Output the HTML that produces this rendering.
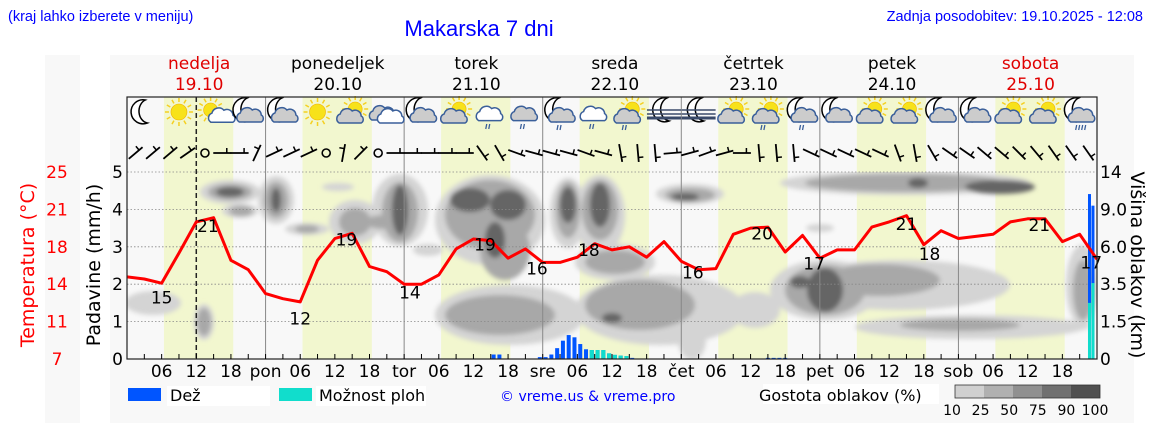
<!DOCTYPE html>
<html><head><meta charset="utf-8"><style>
html,body{margin:0;padding:0;background:#fff;}
svg{display:block;}
text{font-family:"DejaVu Sans","Liberation Sans",sans-serif;}
.hdr{font-family:"Liberation Sans",sans-serif;}
</style></head><body>
<svg id="chart" width="1152" height="443" viewBox="0 0 1152 443" xmlns="http://www.w3.org/2000/svg">
<defs>
<filter id="blur" x="-50%" y="-50%" width="200%" height="200%"><feGaussianBlur stdDeviation="2.5"/></filter>
<clipPath id="plotclip"><rect x="127" y="172" width="970" height="187"/></clipPath>
</defs>
<rect x="45" y="55" width="35" height="368" fill="#f8f8f8"/>
<rect x="110" y="55" width="1024" height="368" fill="#f8f8f8"/>
<text class="hdr" x="8" y="21" font-size="14.5" fill="#0000ff">(kraj lahko izberete v meniju)</text>
<text class="hdr" x="479" y="36" font-size="22" fill="#0000ff" text-anchor="middle">Makarska 7 dni</text>
<text class="hdr" x="1143" y="21" font-size="14.5" fill="#0000ff" text-anchor="end">Zadnja posodobitev: 19.10.2025 - 12:08</text>
<g id="days"></g>
<rect x="127" y="97" width="970" height="262" fill="#f8f8f8"/>
<g id="bands"></g>
<g id="clouds" clip-path="url(#plotclip)" filter="url(#blur)"></g>
<g id="grid"></g>
<g id="rain"></g>
<g id="temp"></g>
<g id="icons"></g>
<g id="wind"></g>
<g id="axes"></g>
<text transform="translate(34,265) rotate(-90)" font-size="19" fill="#ff0000" text-anchor="middle">Temperatura (°C)</text>
<text transform="translate(100,265) rotate(-90)" font-size="19" fill="#000" text-anchor="middle">Padavine (mm/h)</text>
<text transform="translate(1131,265) rotate(90)" font-size="19" fill="#000" text-anchor="middle">Višina oblakov (km)</text>
<g>
<rect x="128" y="388" width="33" height="13" fill="#0055ff"/>
<rect x="167" y="386" width="103" height="20" fill="#fff"/>
<text x="170" y="401" font-size="16">Dež</text>
<rect x="279" y="388" width="33" height="13" fill="#11ddcc"/>
<rect x="316" y="386" width="110" height="20" fill="#fff"/>
<text x="319" y="401" font-size="16">Možnost ploh</text>
<text x="500" y="401" font-size="14" fill="#0000ff">© vreme.us &amp; vreme.pro</text>
<rect x="763" y="384" width="176" height="20" fill="#fff"/>
<text x="759" y="401" font-size="16">Gostota oblakov (%)</text>
<g id="scale"></g>
</g>
</svg>
<script>
const NS='http://www.w3.org/2000/svg';
function mk(tag,attrs,parent){const e=document.createElementNS(NS,tag);for(const k in attrs)e.setAttribute(k,attrs[k]);parent.appendChild(e);return e;}
const X0=127,X1=1097,Y0=359,PXU=37.4;
function xh(h){return X0+h*(X1-X0)/168;}
function yv(v){return Y0-v*PXU;}
function yt(t){return yv((t-7)/3.6);}

// ---- data ----
const dayNames=['nedelja','ponedeljek','torek','sreda','četrtek','petek','sobota'];
const dayDates=['19.10','20.10','21.10','22.10','23.10','24.10','25.10'];
const dayShort=['pon','tor','sre','čet','pet','sob'];
const precipTicks=[0,1,2,3,4,5];
const tempTicks=['7','11','14','18','21','25'];
const heightTicks=['0','1.5','3.5','6.0','9.0','14'];
const tempHours=[0,3,6,9,12,15,18,21,24,27,30,33,36,39,42,45,48,51,54,57,60,63,66,69,72,75,78,81,84,87,90,93,96,99,102,105,108,111,114,117,120,123,126,129,132,135,138,141,144,147,150,153,156,159,162,165,168];
const temps=[14.9,14.7,14.3,17.2,20.2,20.6,16.5,15.6, 13.3,12.8,12.5,16.5,18.6,19.1,15.9,15.4, 14.2,14.2,15.1,17.6,18.55,18.4,16.7,17.6, 16.3,16.3,16.8,18.1,17.5,17.8,16.8,18.3, 16.4,15.6,15.7,19.0,19.6,19.7,17.3,18.9, 16.7,17.5,17.5,19.7,20.2,20.8,18.0,19.35, 18.6,18.8,19.0,20.2,20.5,20.5,18.3,19.0,16.6];
const tempLabelHours=[6,14,30,38,49,62,71,80,98,110,119,135,139,158,167];
const tempLabelVals=['15','21','12','19','14','19','16','18','16','20','17','21','18','21','17'];
const tempLabelTemps=[13.0,19.9,11.0,18.6,13.5,18.1,15.8,17.6,15.4,19.2,16.3,20.1,17.2,20.0,16.4];
const rainHours=[63.5,64.5,71.5,72.5,73.5,74.5,75.5,76.5,77.5,78.5,79.5,80.5,81.5,82.5,83.5,84.5,85.5,86.5,87.5,111,112,113,114,166.7,167.3];
const rainVals=[0.12,0.12,0.05,0.05,0.12,0.29,0.49,0.64,0.58,0.4,0.26,0.24,0.24,0.24,0.15,0.11,0.09,0.08,0.03,0.03,0.03,0.03,0.03,4.41,4.1];
const showerVals=[0,0,0,0,0,0,0,0,0,0,0,0.24,0.24,0.24,0.15,0.11,0.09,0.08,0,0,0,0,0,1.5,2.03];
const iconTypes=['moon','sun','sunc','moonc', 'moonc','sun','csun','cloud', 'moonc','csun','crain','crain2', 'mooncr','crain','csunr','fog', 'fog','csun','csunr','mooncr', 'moonc','csun','csun','moonc', 'moonc','csun','csun','mooncrr'];
const windAngles=[-40,-40,-40,-35,null,0,0,-65, -25,-25,-25,null,-80,-45,null,0, 0,0,0,0,55,60,20,15, 15,15,20,15,80,85,85,-5, -15,-20,-15,0,85,85,85,25, 25,25,25,25,70,80,60,35, 35,40,40,45,50,55,55,55];

// ---- day headers ----
const gd=document.getElementById('days');
dayNames.forEach((n,i)=>{
  const cx=xh(24*i+12.5);const red=(i===0||i===6);
  let t=mk('text',{x:cx,y:69,'font-size':17,'text-anchor':'middle',fill:red?'#e00000':'#000'},gd);t.textContent=n;
  
  
  t=mk('text',{x:cx,y:90,'font-size':17,'text-anchor':'middle',fill:red?'#e00000':'#000'},gd);t.textContent=dayDates[i];
  
  
});
// ---- daylight bands ----
const gb=document.getElementById('bands');
for(let i=0;i<7;i++){
  const r=mk('rect',{x:xh(24*i+6.4),y:97,width:xh(18.4)-xh(6.4),height:262,fill:'#f2f7cf'},gb);
  
  
}
// ---- clouds ----
const gc=document.getElementById('clouds');
const blobs=[
['#d4d4d4',[[230,192,30,12],[240,211,18,7],[276,200,18,24],[307,229,22,6],[338,187,16,4],[355,222,26,22],[400,210,28,36],[380,218,25,10],[428,250,15,6],[490,220,55,45],[510,315,75,30],[153,303,28,12],[204,322,10,18],[568,213,18,35],[600,215,25,40],[615,262,40,18],[660,310,85,35],[690,194,34,10],[692,340,14,20],[905,183,125,12],[825,290,55,30],[900,285,110,25],[970,327,115,12],[1082,285,16,40],[755,310,25,18],[820,228,14,4],[1060,326,30,6]]],
['#a8a8a8',[[230,192,22,8],[241,211,12,5],[276,200,12,18],[307,229,12,4],[355,222,16,14],[400,212,18,30],[385,222,20,7],[490,215,45,35],[505,250,25,30],[500,315,55,20],[204,322,7,14],[568,210,12,28],[600,210,18,30],[615,262,30,12],[640,305,55,25],[690,195,25,7],[905,183,100,9],[825,290,40,25],[880,280,60,16],[1083,290,10,30],[960,325,60,6]]],
['#656565',[[230,192,14,5],[276,200,5,12],[400,210,8,25],[470,200,20,12],[508,205,18,15],[495,240,10,18],[568,205,8,18],[600,205,10,22],[685,197,14,4],[1000,187,35,7],[918,183,10,5],[825,290,18,22],[800,282,10,6],[612,318,10,5]]]
];
blobs.forEach(([c,list])=>list.forEach(b=>{mk('ellipse',{cx:b[0],cy:b[1],rx:b[2],ry:b[3],fill:c},gc);}));
// ---- grid ----
const gg=document.getElementById('grid');
precipTicks.forEach(v=>{ if(v>0){const l=mk('line',{x1:X0,x2:X1,y1:yv(v),y2:yv(v),stroke:'#888','stroke-width':0.8,'stroke-dasharray':'1.5,2'},gg);
  
  }});
for(let d=1;d<7;d++){const l=mk('line',{x1:xh(24*d),x2:xh(24*d),y1:97,y2:359,stroke:'#888','stroke-width':1},gg);
  
  }
const now=mk('line',{x1:xh(12),x2:xh(12),y1:97,y2:359,stroke:'#222','stroke-width':1.5,'stroke-dasharray':'5,3'},gg);


// ---- rain ----
const gr=document.getElementById('rain');
rainHours.forEach((h,i)=>{
  const w=h>160?3:4;
  const r=mk('rect',{x:xh(h)-w/2,y:yv(rainVals[i]),width:w,height:rainVals[i]*PXU,fill:'#0055ff'},gr);
  
  
  if(showerVals[i]>0){const s=mk('rect',{x:xh(h)-w/2,y:yv(showerVals[i]),width:w,height:showerVals[i]*PXU,fill:'#11ddcc'},gr);
    
    }
});
// ---- temperature ----
const gt=document.getElementById('temp');
const pts=tempHours.map((h,i)=>xh(h).toFixed(1)+','+yt(temps[i]).toFixed(1)).join(' ');
const pl=mk('polyline',{points:pts,fill:'none',stroke:'#ff0000','stroke-width':3,'stroke-linejoin':'round'},gt);


tempLabelHours.forEach((h,i)=>{
  const t=mk('text',{x:xh(h),y:yt(tempLabelTemps[i])+7,'font-size':17,'text-anchor':'middle',fill:'#000'},gt);
  t.textContent=tempLabelVals[i];
  
  
});
// ---- icons ----
const gi=document.getElementById('icons');
function sun(g,cx,cy,r){for(let a=0;a<360;a+=30){const rad=a*Math.PI/180;mk('line',{x1:cx+Math.cos(rad)*(r+2),y1:cy+Math.sin(rad)*(r+2),x2:cx+Math.cos(rad)*(r+6),y2:cy+Math.sin(rad)*(r+6),stroke:'#f5d020','stroke-width':1.5},g);}mk('circle',{cx:cx,cy:cy,r:r,fill:'#f7e21a',stroke:'#f0b000','stroke-width':0.6},g);}
function moon(g,cx,cy){mk('path',{d:`M${cx+3},${cy-12} A12,12 0 1,0 ${cx+5},${cy+11} A10,12 0 0,1 ${cx+3},${cy-12}Z`,fill:'#fff',stroke:'#000','stroke-width':1.5},g);}
function cloud(g,cx,cy,s,fill){mk('path',{d:`M${cx-11*s},${cy+6*s} a5,5 0 0,1 1,-9 a7,7 0 0,1 12,-3 a6,6 0 0,1 9,5 a4,4 0 0,1 0,7 z`,fill:fill,stroke:'#3a5f9a','stroke-width':1.5},g);}
function drops(g,cx,cy,n){for(let k=0;k<n;k++){mk('line',{x1:cx-4+k*3,y1:cy,x2:cx-5+k*3,y2:cy+5,stroke:'#3a5f9a','stroke-width':1.3},g);}}
iconTypes.forEach((t,i)=>{
  const cx=xh(3+6*i),cy=112;
  const g=mk('g',{},gi);
  
  
  if(t==='moon'){moon(g,cx-2,cy);}
  else if(t==='sun'){sun(g,cx,cy,8);}
  else if(t==='sunc'){sun(g,cx-3,cy-2,7);cloud(g,cx+5,cy+6,0.7,'#fff');}
  else if(t==='csun'||t==='csunr'){sun(g,cx+3,cy-3,7);cloud(g,cx-2,cy+5,1,'#ccc');if(t==='csunr')drops(g,cx-2,cy+13,2);}
  else if(t==='moonc'||t==='mooncr'||t==='mooncrr'){moon(g,cx-4,cy-2);cloud(g,cx+2,cy+4,1,'#ccc');if(t==='mooncr')drops(g,cx+2,cy+13,2);if(t==='mooncrr')drops(g,cx+1,cy+13,4);}
  else if(t==='cloud'){cloud(g,cx-4,cy+2,1,'#ccc');cloud(g,cx+4,cy+5,1,'#fff');}
  else if(t==='crain'){cloud(g,cx,cy+2,1.1,'#fff');drops(g,cx,cy+12,2);}
  else if(t==='crain2'){cloud(g,cx,cy+2,1.1,'#ccc');drops(g,cx,cy+12,2);}
  else if(t==='fog'){moon(g,cx,cy-2);for(let k=0;k<3;k++)mk('line',{x1:cx-17,x2:cx+17,y1:cy+k*4-2,y2:cy+k*4-2,stroke:'#3a4a6a','stroke-width':k===2?3:1.5},g);}
});
// ---- wind ----
const gw=document.getElementById('wind');
windAngles.forEach((a,i)=>{
  const cx=xh(1.5+3*i),cy=153;
  const g=mk('g',{},gw);
  
  
  if(a===null){mk('circle',{cx:cx,cy:cy,r:4,fill:'none',stroke:'#000','stroke-width':1.6},g);return;}
  const r=a*Math.PI/180,L=9;
  const dx=Math.cos(r)*L,dy=Math.sin(r)*L;
  mk('line',{x1:cx-dx,y1:cy-dy,x2:cx+dx,y2:cy+dy,stroke:'#000','stroke-width':1.8},g);
  const px=-Math.sin(r)*5,py=Math.cos(r)*5;
  mk('line',{x1:cx+dx*0.5,y1:cy+dy*0.5,x2:cx+dx*0.5-px*(py<0?-1:1),y2:cy+dy*0.5-Math.abs(py)-(py===0?5:0),stroke:'#000','stroke-width':1.5},g);
});
// ---- axes ----
const ga=document.getElementById('axes');
const fr=mk('rect',{x:X0,y:97,width:X1-X0,height:262,fill:'none',stroke:'#222','stroke-width':1.2},ga);


for(let h=3;h<168;h+=3){const l=mk('line',{x1:xh(h),x2:xh(h),y1:359,y2:354,stroke:'#000','stroke-width':1},ga);
  
  }
for(let h=6;h<168;h+=6){
  const m=h%24;let lab=m===0?dayShort[h/24-1]:String(m).padStart(2,'0');
  const t=mk('text',{x:xh(h),y:377,'font-size':17,'text-anchor':'middle'},ga);t.textContent=lab;
  
  
}
precipTicks.forEach((v,i)=>{
  let t=mk('text',{x:123,y:yv(v)+6,'font-size':17,'text-anchor':'end'},ga);t.textContent=String(v);
  
  
  t=mk('text',{x:57,y:yv(v)+6,'font-size':17,'text-anchor':'middle',fill:'#ff0000'},ga);t.textContent=tempTicks[i];
  
  
  t=mk('text',{x:1100,y:yv(v)+6,'font-size':17,'text-anchor':'start'},ga);t.textContent=heightTicks[i];
  
  
});
// ---- density scale ----
const gs=document.getElementById('scale');
const scaleCols=['#d0d0d0','#b0b0b0','#909090','#707070','#505050'];
const scaleLabels=['10','25','50','75','90','100'];
scaleCols.forEach((c,i)=>{const r=mk('rect',{x:955+i*29,y:385,width:29,height:13,fill:c},gs);
  
  });
mk('rect',{x:955,y:385,width:145,height:13,fill:'none',stroke:'#333','stroke-width':0.8},gs);
scaleLabels.forEach((l,i)=>{const t=mk('text',{x:952+i*28.6,y:415,'font-size':14,'text-anchor':'middle'},gs);t.textContent=l;
  
  });
</script>
</body></html>
